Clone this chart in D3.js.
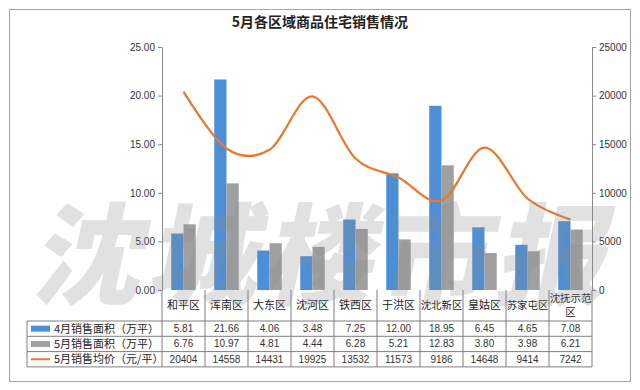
<!DOCTYPE html>
<html>
<head>
<meta charset="utf-8">
<script src="https://cdn.jsdelivr.net/npm/d3@7"></script>
<style>
  body { margin: 0; background: #fff; }
  text { font-family: "Noto Sans CJK SC", "Noto Sans", sans-serif; }
</style>
</head>
<body>
<svg id="chart" width="640" height="390"></svg>
<script>
var districts = ["和平区", "浑南区", "大东区", "沈河区", "铁西区", "于洪区", "沈北新区", "皇姑区", "苏家屯区", "沈抚示范区"];
var april = [5.81, 21.66, 4.06, 3.48, 7.25, 12.00, 18.95, 6.45, 4.65, 7.08];
var may = [6.76, 10.97, 4.81, 4.44, 6.28, 5.21, 12.83, 3.80, 3.98, 6.21];
var price = [20404, 14558, 14431, 19925, 13532, 11573, 9186, 14648, 9414, 7242];
var seriesNames = ["4月销售面积（万平）", "5月销售面积（万平）", "5月销售均价（元/平）"];
var leftTicks = [0, 5, 10, 15, 20, 25];
var rightTicks = [0, 5000, 10000, 15000, 20000, 25000];

var svg = d3.select("#chart");
var blue = "#4d8fd6", grey = "#a0a0a0", orange = "#e8792f", axisCol = "#8a8a8a";

// plot box (window.top is read-only, so use other names)
var plotL = 162, plotR = 592, plotT = 47, plotB = 290;

// outer frame
svg.append("rect")
    .attr("x", 9.5).attr("y", 9.5).attr("width", 621).attr("height", 372)
    .attr("fill", "#fff").attr("stroke", "#a6a6a6");

svg.append("text")
    .attr("x", 320).attr("y", 27)
    .attr("text-anchor", "middle")
    .style("font-size", "14px").style("font-weight", "bold")
    .attr("fill", "#222")
    .text("5月各区域商品住宅销售情况");

var x = d3.scaleBand().domain(districts).range([plotL, plotR]).padding(0);
var inner = d3.scaleBand().domain([0, 1]).range([0, x.bandwidth() * 0.57]).padding(0);
var off = (x.bandwidth() - inner.range()[1]) / 2;
var yL = d3.scaleLinear().domain([0, 25]).range([plotB, plotT]);
var yR = d3.scaleLinear().domain([0, 25000]).range([plotB, plotT]);

// bars
[april, may].forEach(function(vals, k) {
    svg.append("g").selectAll("rect")
        .data(vals)
        .join("rect")
        .attr("x", function(d, i) { return x(districts[i]) + off + inner(k); })
        .attr("y", function(d) { return yL(d); })
        .attr("width", inner.bandwidth())
        .attr("height", function(d) { return plotB - yL(d); })
        .attr("fill", k === 0 ? blue : grey);
});

// price line
var line = d3.line()
    .x(function(d, i) { return x(districts[i]) + x.bandwidth() / 2; })
    .y(function(d) { return yR(d); })
    .curve(d3.curveCardinal.tension(0));
svg.append("path")
    .datum(price)
    .attr("d", line)
    .attr("fill", "none")
    .attr("stroke", orange)
    .attr("stroke-width", 2.25);

// axes
var gl = svg.append("g").attr("transform", "translate(" + plotL + ",0)")
    .call(d3.axisLeft(yL).tickValues(leftTicks).tickFormat(d3.format(".2f")).tickSize(4).tickSizeOuter(0));
var gr = svg.append("g").attr("transform", "translate(" + plotR + ",0)")
    .call(d3.axisRight(yR).tickValues(rightTicks).tickFormat(d3.format("d")).tickSize(4).tickSizeOuter(0));
[gl, gr].forEach(function(g) {
    g.select(".domain").attr("stroke", axisCol);
    g.selectAll(".tick line").attr("stroke", axisCol);
    g.selectAll(".tick text").attr("fill", "#333")
        .style("font-size", "10px").style("font-family", "'Liberation Sans', sans-serif");
});

// data table
var tableLeft = 27, rowTop = 321, rowH = 15.3;
var tg = svg.append("g").attr("stroke", "#7f7f7f").attr("stroke-width", 1);
tg.append("line").attr("x1", plotL).attr("x2", plotL).attr("y1", plotB).attr("y2", rowTop + rowH * 3);
districts.forEach(function(d) {
    var xr = x(d) + x.bandwidth();
    tg.append("line").attr("x1", xr).attr("x2", xr).attr("y1", plotB).attr("y2", rowTop + rowH * 3);
});
tg.append("line").attr("x1", tableLeft).attr("x2", tableLeft).attr("y1", rowTop).attr("y2", rowTop + rowH * 3);
for (var r = 0; r <= 3; r++) {
    tg.append("line").attr("x1", tableLeft).attr("x2", plotR)
        .attr("y1", rowTop + rowH * r).attr("y2", rowTop + rowH * r);
}

// category labels (wrap the long one)
districts.forEach(function(d) {
    var cx = x(d) + x.bandwidth() / 2;
    var lines = d.length > 4 ? [d.slice(0, 4), d.slice(4)] : [d];
    var t = svg.append("text").attr("text-anchor", "middle")
        .style("font-size", d.length > 3 ? "10.4px" : "11px").attr("fill", "#222");
    lines.forEach(function(s, j) {
        t.append("tspan").attr("x", cx)
            .attr("y", lines.length > 1 ? 302 + j * 14 : 309)
            .text(s);
    });
});

// table rows
var rows = [april.map(d3.format(".2f")), may.map(d3.format(".2f")), price.map(String)];
rows.forEach(function(vals, r) {
    var cy = rowTop + rowH * r + rowH / 2;
    if (r < 2) {
        svg.append("rect").attr("x", 31).attr("y", cy - 3).attr("width", 19).attr("height", 6)
            .attr("fill", r === 0 ? blue : grey);
    } else {
        svg.append("line").attr("x1", 31).attr("x2", 50).attr("y1", cy).attr("y2", cy)
            .attr("stroke", orange).attr("stroke-width", 2);
    }
    svg.append("text").attr("x", 54).attr("y", cy + 4)
        .style("font-size", "11px").attr("fill", "#222")
        .text(seriesNames[r]);
    vals.forEach(function(v, i) {
        svg.append("text").attr("x", x(districts[i]) + x.bandwidth() / 2).attr("y", cy + 3.5)
            .attr("text-anchor", "middle")
            .style("font-size", "10px").style("font-family", "'Liberation Sans', sans-serif")
            .attr("fill", "#333")
            .text(v);
    });
});

// watermark
svg.append("text")
    .attr("x", 325).attr("y", 296)
    .attr("text-anchor", "middle")
    .attr("transform", "skewX(-12) translate(58,0)")
    .style("font-size", "110px").style("font-weight", "900")
    .style("letter-spacing", "6px")
    .attr("fill", "#8c8c8c").attr("fill-opacity", 0.26)
    .style("pointer-events", "none")
    .text("沈城楼市报");
</script>
</body>
</html>
